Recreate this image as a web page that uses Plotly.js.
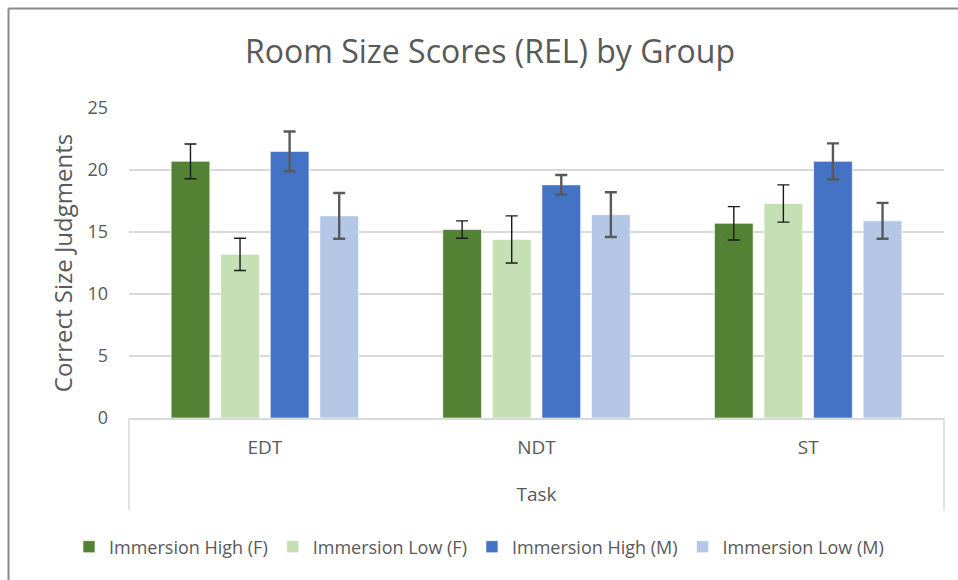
<!DOCTYPE html>
<html>
<head>
<meta charset="utf-8">
<script src="https://cdn.plot.ly/plotly-3.0.1.min.js"></script>
<style>html,body{margin:0;padding:0;background:#fff;}#chart{width:958px;height:580px;}</style>
</head>
<body>
<div id="chart"></div>
<script>
const categories = ["EDT", "NDT", "ST"];
const seriesNames = ["Immersion High (F)", "Immersion Low (F)", "Immersion High (M)", "Immersion Low (M)"];
const highF = [20.7, 15.2, 15.7];
const lowF = [13.2, 14.4, 17.3];
const highM = [21.5, 18.8, 20.7];
const lowM = [16.3, 16.4, 15.9];
const errHighF = [1.4, 0.7, 1.35];
const errLowF = [1.3, 1.9, 1.5];
const errHighM = [1.6, 0.8, 1.45];
const errLowM = [1.85, 1.8, 1.45];
const yTicks = [0, 5, 10, 15, 20, 25];

const colors = ["#548235", "#C5E0B4", "#4472C4", "#B4C7E7"];
const errColors = ["#1a1a1a", "#1a1a1a", "#595959", "#595959"];
const errThick = [1.4, 1.4, 2.4, 2.4];
const values = [highF, lowF, highM, lowM];
const errs = [errHighF, errLowF, errHighM, errLowM];

const FONT = "'Open Sans', sans-serif";
const traces = values.map((v, i) => ({
  type: "bar",
  name: seriesNames[i],
  x: categories,
  y: v,
  marker: {color: colors[i], line: {color: "rgba(255,255,255,0.6)", width: 1}},
  error_y: {type: "data", array: errs[i], visible: true, color: errColors[i], thickness: errThick[i], width: 6}
}));

const L = 129, R = 944, T = 108, B = 418;
const pw = R - L, ph = B - T;
const px = x => (x - L) / pw;
const py = y => (B - y) / ph;

const layout = {
  width: 958, height: 580,
  margin: {l: L, r: 958 - R, t: T, b: 580 - B},
  paper_bgcolor: "#fff", plot_bgcolor: "#fff",
  font: {family: FONT, color: "#595959"},
  title: {text: "Room Size Scores (REL) by Group", font: {family: FONT, size: 32, color: "#595959"},
          x: 490 / 958, xanchor: "center", xref: "container", y: 1 - 52 / 580, yanchor: "middle", yref: "container"},
  barmode: "group", bargap: 0.27, bargroupgap: 0.22,
  showlegend: true,
  legend: {orientation: "h", x: 0.5, xref: "container", xanchor: "center", y: 1 - 547 / 580, yref: "container", yanchor: "middle",
           font: {family: FONT, size: 18, color: "#595959"}, itemwidth: 30, tracegroupgap: 0},
  xaxis: {type: "category", showgrid: false, zeroline: false, showline: true, linecolor: "#d9d9d9", linewidth: 1.5,
          ticks: "", tickfont: {family: FONT, size: 19, color: "#595959"}, ticklabelstandoff: 12,
          title: {text: "Task", font: {family: FONT, size: 19, color: "#595959"}, standoff: 28}},
  yaxis: {range: [0, 25], tickvals: yTicks, showgrid: true, gridcolor: "#d9d9d9", gridwidth: 1.5, zeroline: false, showline: false,
          ticks: "", tickfont: {family: FONT, size: 18, color: "#595959"}, ticklabelstandoff: 20,
          title: {text: "Correct Size Judgments", font: {family: FONT, size: 24, color: "#595959"}, standoff: 8}},
  shapes: [
    {type: "line", xref: "paper", yref: "paper", x0: 0, x1: 0, y0: 0, y1: py(510), line: {color: "#d9d9d9", width: 1.5}},
    {type: "line", xref: "paper", yref: "paper", x0: 1, x1: 1, y0: 0, y1: py(510), line: {color: "#d9d9d9", width: 1.5}},
    {type: "line", xref: "paper", yref: "paper", x0: px(8.5), x1: px(8.5), y0: py(8.5), y1: py(580), line: {color: "#8a8a8a", width: 2}},
    {type: "line", xref: "paper", yref: "paper", x0: px(8.5), x1: px(958), y0: py(8.5), y1: py(8.5), line: {color: "#8a8a8a", width: 2}}
  ]
};

Plotly.newPlot("chart", traces, layout, {displayModeBar: false, staticPlot: true});
</script>
</body>
</html>
